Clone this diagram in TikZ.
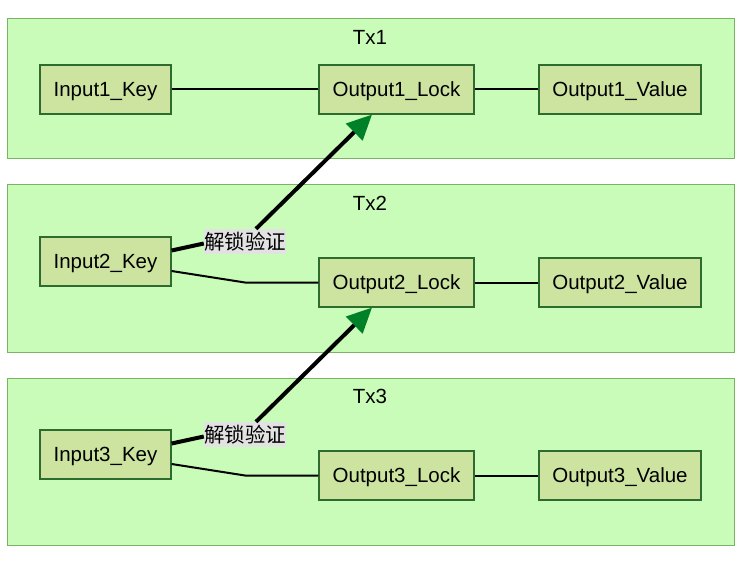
\documentclass[tikz,border=0pt]{standalone}
\usepackage{fontspec}
\setmainfont{Liberation Sans}
\newfontfamily\cjk{Noto Sans CJK SC}
\usetikzlibrary{arrows.meta}
\definecolor{clfill}{HTML}{C8FCB8}
\definecolor{cldraw}{HTML}{78B464}
\definecolor{ndfill}{HTML}{CDE3A0}
\definecolor{nddraw}{HTML}{2E6B2E}
\definecolor{arrgreen}{HTML}{008028}
\definecolor{labfill}{HTML}{E2E2E2}
\tikzset{
  cluster/.style={fill=clfill, draw=cldraw, line width=1bp},
  txlabel/.style={font=\fontsize{20.5bp}{24bp}\selectfont, inner sep=0, text depth=0pt},
  nd/.style={fill=ndfill, draw=nddraw, line width=1.2bp, inner sep=0, minimum height=49bp,
    text depth=0pt, font=\fontsize{20.5bp}{24bp}\selectfont},
  lab/.style={fill=labfill, inner sep=0, minimum width=82bp, minimum height=25bp,
    font=\cjk\fontsize{20.5bp}{24bp}\selectfont},
  ln/.style={draw=black, line width=2bp},
  bold/.style={draw=black, line width=4bp},
  arr/.style={bold, -{Triangle[length=25bp, width=23bp, fill=arrgreen, color=arrgreen]}}
}
\begin{document}
\begin{tikzpicture}[x=1bp, y=-1bp]
\useasboundingbox (0,0) rectangle (740,564);
\fill[white] (0,0) rectangle (740,564);
% clusters
\draw[cluster] (7,19) rectangle (734,159);
\draw[cluster] (7,185) rectangle (734,352);
\draw[cluster] (7,378) rectangle (734,545);
\node[txlabel] (tx1) at (370,37) {Tx1};
\node[txlabel] (tx2) at (370,203) {Tx2};
\node[txlabel] (tx3) at (370,396) {Tx3};
% nodes
\node[nd, minimum width=131bp] (in1) at (105.5,89.5) {Input1\_Key};
\node[nd, minimum width=155bp] (out1) at (396.5,89.5) {Output1\_Lock};
\node[nd, minimum width=162bp] (val1) at (620,89.5) {Output1\_Value};
\node[nd, minimum width=131bp] (in2) at (105.5,261.5) {Input2\_Key};
\node[nd, minimum width=155bp] (out2) at (396.5,282.5) {Output2\_Lock};
\node[nd, minimum width=162bp] (val2) at (620,282.5) {Output2\_Value};
\node[nd, minimum width=131bp] (in3) at (105.5,454.5) {Input3\_Key};
\node[nd, minimum width=155bp] (out3) at (396.5,475.5) {Output3\_Lock};
\node[nd, minimum width=162bp] (val3) at (620,475.5) {Output3\_Value};
% labels
\node[lab] (lab2) at (245,241.5) {解锁验证};
\node[lab] (lab3) at (245,434.5) {解锁验证};
% thin edges
\draw[ln] (in1.east) -- (out1.west);
\draw[ln] (out1.east) -- (val1.west);
\draw[ln] (out2.east) -- (val2.west);
\draw[ln] (out3.east) -- (val3.west);
\draw[ln] ([yshift=-9.5bp]in2.east) -- (lab2.center |- out2.west) -- (out2.west);
\draw[ln] ([yshift=-9.5bp]in3.east) -- (lab3.center |- out3.west) -- (out3.west);
% unlock edges
\draw[bold] ([yshift=11bp]in2.east) -- ([yshift=-2bp]lab2.west);
\draw[arr] ([xshift=11bp]lab2.north) -- ([xshift=-24.5bp]out1.south);
\draw[bold] ([yshift=11bp]in3.east) -- ([yshift=-2bp]lab3.west);
\draw[arr] ([xshift=11bp]lab3.north) -- ([xshift=-24.5bp]out2.south);
\end{tikzpicture}
\end{document}
